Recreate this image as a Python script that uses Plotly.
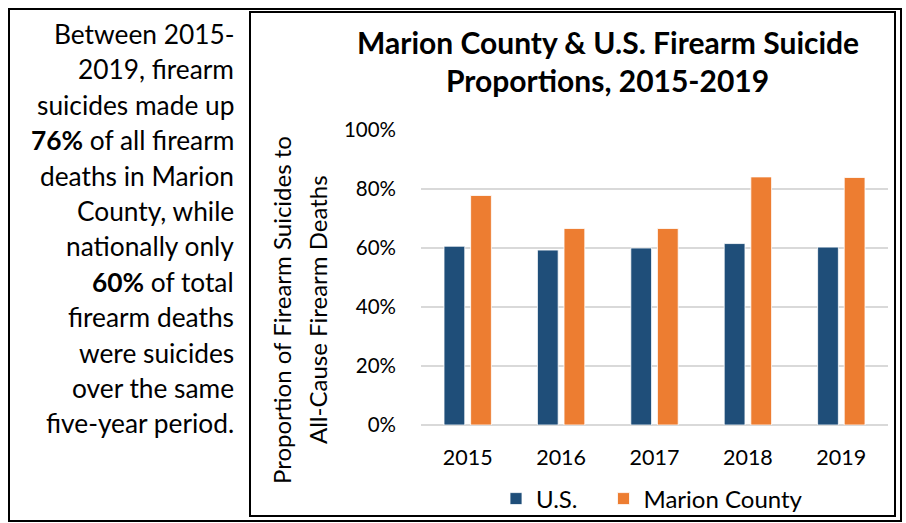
import plotly.graph_objects as go

# Firearm suicides as a share of all firearm deaths
years = ["2015", "2016", "2017", "2018", "2019"]
us_share = [0.606, 0.593, 0.600, 0.615, 0.603]
marion_share = [0.778, 0.666, 0.666, 0.841, 0.839]

y_ticks = [0, 0.2, 0.4, 0.6, 0.8, 1.0]
y_tick_labels = ["0%", "20%", "40%", "60%", "80%", "100%"]

side_lines = [
    "Between 2015-",
    "2019, firearm",
    "suicides made up",
    "<b>76%</b> of all firearm",
    "deaths in Marion",
    "County, while",
    "nationally only",
    "<b>60%</b> of total",
    "firearm deaths",
    "were suicides",
    "over the same",
    "five-year period.",
]

title_lines = ["Marion County & U.S. Firearm Suicide", "Proportions, 2015-2019"]
y_title_lines = ["Proportion of Firearm Suicides to", "All-Cause Firearm Deaths"]

US_BLUE = "#1F4E79"
ORANGE = "#ED7D31"
FONT = "Lato"

W, H = 906, 523
PL, PR, PT, PB = 421, 888, 130, 425  # plot-area pixel box


def px_x(px):
    return (px - PL) / (PR - PL)


def px_y(py):
    return (PB - py) / (PB - PT)


fig = go.Figure()
fig.add_trace(go.Bar(
    x=years, y=us_share, name="U.S.", legend="legend",
    marker=dict(color=US_BLUE, line=dict(color="white", width=0.8)),
))
fig.add_trace(go.Bar(
    x=years, y=marion_share, name="Marion County", legend="legend2",
    marker=dict(color=ORANGE, line=dict(color="white", width=0.8)),
))

shapes = [
    # outer frame around text panel and chart
    dict(type="rect", xref="paper", yref="paper",
         x0=px_x(9), x1=px_x(901), y0=px_y(521), y1=px_y(9),
         line=dict(color="black", width=2), layer="above"),
    # chart frame
    dict(type="rect", xref="paper", yref="paper",
         x0=px_x(250), x1=px_x(895), y0=px_y(516), y1=px_y(12),
         line=dict(color="black", width=2), layer="above"),
]

annotations = []
# side commentary, right aligned
for i, line in enumerate(side_lines):
    annotations.append(dict(
        text=line, xref="paper", yref="paper",
        x=px_x(236), y=px_y(34 + i * 35.4),
        xanchor="right", yanchor="middle", showarrow=False,
        font=dict(family=FONT, size=26.3, color="black"),
    ))

# chart title
for i, line in enumerate(title_lines):
    annotations.append(dict(
        text=f"<b>{line}</b>", xref="paper", yref="paper",
        x=px_x(607.5), y=px_y(42 + i * 38),
        xanchor="center", yanchor="middle", showarrow=False,
        font=dict(family=FONT, size=30, color="black"),
    ))

# y-axis title in two rotated lines
for i, line in enumerate(y_title_lines):
    annotations.append(dict(
        text=line, xref="paper", yref="paper",
        x=px_x(281 + i * 36), y=px_y(310),
        xanchor="center", yanchor="middle", showarrow=False, textangle=-90,
        font=dict(family=FONT, size=24, color="black"),
    ))

legend_style = dict(
    orientation="h", yanchor="middle", xanchor="left",
    font=dict(family=FONT, size=24, color="black"),
    bgcolor="rgba(0,0,0,0)", itemwidth=30,
)

fig.update_layout(
    width=W, height=H,
    margin=dict(l=PL, r=W - PR, t=PT, b=H - PB, pad=0, autoexpand=False),
    paper_bgcolor="white", plot_bgcolor="white",
    barmode="group", bargap=0.43, bargroupgap=0.22,
    font=dict(family=FONT, color="black"),
    showlegend=True,
    legend=dict(legend_style, x=px_x(496), y=px_y(499)),
    legend2=dict(legend_style, x=px_x(603.5), y=px_y(499)),
    xaxis=dict(
        showgrid=False, showline=False, zeroline=False,
        tickfont=dict(family=FONT, size=21.5, color="black"),
        ticks="", ticklabelstandoff=17,
    ),
    yaxis=dict(
        range=[0, 1], tickvals=y_ticks, ticktext=y_tick_labels,
        showgrid=True, gridcolor="#D9D9D9", gridwidth=1.5,
        zeroline=True, zerolinecolor="#D9D9D9", zerolinewidth=1.5,
        showline=False, ticks="", ticklabelstandoff=24,
        tickfont=dict(family=FONT, size=20.5, color="black"),
    ),
    shapes=shapes, annotations=annotations,
)

fig.write_html("out.html")
